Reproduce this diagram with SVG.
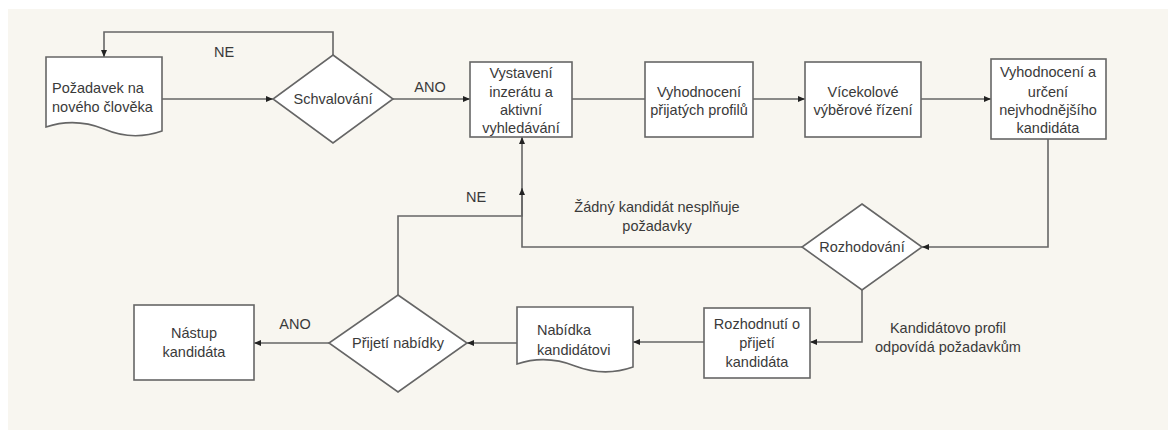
<svg xmlns="http://www.w3.org/2000/svg" width="1168" height="430" viewBox="0 0 1168 430">
<style>
.shape{fill:#ffffff;stroke:#666666;stroke-width:1.6}
.conn{fill:none;stroke:#666666;stroke-width:1.6}
.t{font-family:"Liberation Sans",Arial,sans-serif;font-size:14.5px;fill:#3a3a3a}
.c{text-anchor:middle}
</style>
<defs>
<marker id="arr" markerWidth="8" markerHeight="6" refX="7" refY="3" orient="auto" markerUnits="userSpaceOnUse">
<path d="M0,0 L7,3 L0,6 Z" fill="#222222"/>
</marker>
</defs>
<rect x="0" y="0" width="1168" height="430" fill="#ffffff"/>
<rect x="8" y="9" width="1160" height="421" fill="#f8f6f0"/>

<g id="connectors">
<path class="conn" d="M162,99 H273" marker-end="url(#arr)"/>
<path class="conn" d="M333,55 V32 H104 V57" marker-end="url(#arr)"/>
<path class="conn" d="M393,99 H470" marker-end="url(#arr)"/>
<path class="conn" d="M572,99 H645"/>
<path class="conn" d="M753,99 H805" marker-end="url(#arr)"/>
<path class="conn" d="M921,99 H991" marker-end="url(#arr)"/>
<path class="conn" d="M1048,139 V247 H922" marker-end="url(#arr)"/>
<path class="conn" d="M802,247 H522 V137" marker-end="url(#arr)"/>
<path class="conn" d="M862,290 V342 H810" marker-end="url(#arr)"/>
<path class="conn" d="M704,342 H633" marker-end="url(#arr)"/>
<path class="conn" d="M517,343 H467" marker-end="url(#arr)"/>
<path class="conn" d="M329,343 H254" marker-end="url(#arr)"/>
<path class="conn" d="M398,295 V216 H522 V188" marker-end="url(#arr)"/>
<text class="t c" x="224" y="57">NE</text>
<text class="t c" x="430" y="92">ANO</text>
<text class="t c" x="476" y="202">NE</text>
<text class="t c" x="657" y="212">Žádný kandidát nesplňuje</text>
<text class="t c" x="657" y="231">požadavky</text>
<text class="t c" x="295" y="329">ANO</text>
<text class="t c" x="948" y="333">Kandidátovo profil</text>
<text class="t c" x="948" y="352">odpovídá požadavkům</text>
</g>

<g id="pozadavek">
<path class="shape" d="M46,57 H162 V131 C145,137 125,138 104,129 C84,121 64,121 46,127 Z"/>
<text class="t" x="52" y="93">Požadavek na</text>
<text class="t" x="52" y="112">nového člověka</text>
</g>

<g id="schvalovani">
<path class="shape" d="M333,55 L393,99 L333,143 L273,99 Z"/>
<text class="t c" x="333" y="104">Schvalování</text>
</g>

<g id="vystaveni">
<rect class="shape" x="470" y="62" width="102" height="75"/>
<text class="t c" x="521" y="78">Vystavení</text>
<text class="t c" x="521" y="97">inzerátu a</text>
<text class="t c" x="521" y="115">aktivní</text>
<text class="t c" x="521" y="133">vyhledávání</text>
</g>

<g id="vyhodnoceni-profilu">
<rect class="shape" x="645" y="62" width="108" height="75"/>
<text class="t c" x="699" y="97">Vyhodnocení</text>
<text class="t c" x="699" y="115">přijatých profilů</text>
</g>

<g id="vicekolove">
<rect class="shape" x="805" y="62" width="116" height="75"/>
<text class="t c" x="863" y="97">Vícekolové</text>
<text class="t c" x="863" y="115">výběrové řízení</text>
</g>

<g id="vyhodnoceni-urceni">
<rect class="shape" x="991" y="59" width="115" height="80"/>
<text class="t c" x="1048" y="77">Vyhodnocení a</text>
<text class="t c" x="1048" y="97">určení</text>
<text class="t c" x="1048" y="115">nejvhodnějšího</text>
<text class="t c" x="1048" y="133">kandidáta</text>
</g>

<g id="rozhodovani">
<path class="shape" d="M862,204 L922,247 L862,290 L802,247 Z"/>
<text class="t c" x="862" y="252">Rozhodování</text>
</g>

<g id="rozhodnuti">
<rect class="shape" x="704" y="308" width="106" height="70"/>
<text class="t c" x="757" y="329">Rozhodnutí o</text>
<text class="t c" x="757" y="348">přijetí</text>
<text class="t c" x="757" y="367">kandidáta</text>
</g>

<g id="nabidka">
<path class="shape" d="M517,307 H633 V367 C616,373 596,374 575,366 C555,358 535,358 517,364 Z"/>
<text class="t" x="537" y="335">Nabídka</text>
<text class="t" x="537" y="355">kandidátovi</text>
</g>

<g id="prijeti">
<path class="shape" d="M398,295 L467,343 L398,392 L329,343 Z"/>
<text class="t c" x="398" y="348">Přijetí nabídky</text>
</g>

<g id="nastup">
<rect class="shape" x="134" y="305" width="120" height="75"/>
<text class="t c" x="194" y="338">Nástup</text>
<text class="t c" x="194" y="357">kandidáta</text>
</g>
</svg>
